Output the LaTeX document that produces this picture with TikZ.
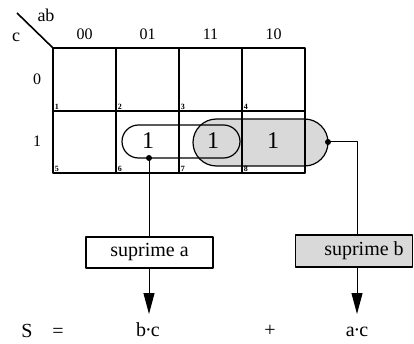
\documentclass[tikz,border=0pt]{standalone}
\usepackage{fontspec}
\setmainfont{Liberation Serif}
\usetikzlibrary{arrows.meta}
\begin{document}
\begin{tikzpicture}[x=1pt,y=-1pt, line join=round,
 gridline/.style={line width=1.6pt},
 loopshape/.style={draw, line width=1.2pt, inner sep=0pt},
 lbl/.style={font=\fontsize{16}{18}\selectfont, inner sep=0pt},
 corner/.style={font=\fontsize{18}{20}\selectfont, inner sep=0pt},
 cellnum/.style={font=\fontsize{8}{9}\selectfont\bfseries, inner sep=0.6pt, anchor=south west},
 one/.style={font=\fontsize{24}{26}\selectfont, inner sep=0pt},
 boxnode/.style={draw, line width=1.1pt, minimum height=31pt, font=\fontsize{20}{22}\selectfont, inner sep=0pt},
 eq/.style={font=\fontsize{20}{22}\selectfont, inner sep=0pt, anchor=base},
 conn/.style={line width=1pt},
 arr/.style={conn, -{Triangle[length=21pt,width=11pt]}},
 dotnode/.style={circle, fill, inner sep=0pt, minimum size=6pt},
 shade/.style={fill=black!15}]
\useasboundingbox (0,0) rectangle (414,344);
% shaded loop b
\node[loopshape, shade, rounded corners=23.5pt, minimum width=135pt, minimum height=47pt] (loopb) at (260.5,142.5) {};
% grid
\draw[gridline] (53,48) rectangle (305,173);
\draw[gridline] (53,111) -- (305,111);
\foreach \x in {116,179,242} \draw[gridline] (\x,48) -- (\x,173);
\draw[gridline] (17,13) -- (53,48);
% loop a
\node[loopshape, rounded corners=16.5pt, minimum width=118pt, minimum height=33pt] (loopa) at (181,141.5) {};
% labels
\node[corner] (lab) at (46,15) {ab};
\node[corner] (lc) at (16,37) {c};
\node[lbl] (h00) at (84.5,34) {00};
\node[lbl] (h01) at (147.5,34) {01};
\node[lbl] (h11) at (210.5,34) {11};
\node[lbl] (h10) at (273.5,34) {10};
\node[lbl] (r0) at (37,79) {0};
\node[lbl] (r1) at (37,141) {1};
% cell numbers
\node[cellnum] (n1) at (54,110) {1};
\node[cellnum] (n2) at (117,110) {2};
\node[cellnum] (n3) at (180,110) {3};
\node[cellnum] (n4) at (243,110) {4};
\node[cellnum] (n5) at (54,172) {5};
\node[cellnum] (n6) at (117,172) {6};
\node[cellnum] (n7) at (180,172) {7};
\node[cellnum] (n8) at (243,172) {8};
% ones
\node[one] (o1) at (148,141) {1};
\node[one] (o2) at (213,141) {1};
\node[one] (o3) at (273,141) {1};
% dots
\node[dotnode] (da) at (149,158) {};
\node[dotnode] (db) at (328,142) {};
% boxes
\node[boxnode, minimum width=127pt] (boxa) at (149.5,252.5) {suprime a};
\node[boxnode, shade, minimum width=117pt, minimum height=32pt] (boxb) at (354,251) {\hspace*{20pt}suprime b};
% connectors
\coordinate (bend) at (357,142);
\coordinate (ta) at (149,314);
\coordinate (tb) at (357,314);
\draw[conn] (da.center) -- (boxa.north -| da.center);
\draw[conn] (db.center) -- (bend) -- (bend |- boxb.north);
\draw[arr] (boxa.south -| ta) -- (ta);
\draw[arr] (boxb.south -| tb) -- (tb);
% equation
\node[eq] (s) at (27,337) {S};
\node[eq] (eqs) at (58,337) {=};
\node[eq] (bc) at (148,336) {b{\kern-1pt}·{\kern-1pt}c};
\node[eq] (plus) at (270,336) {+};
\node[eq] (ac) at (357,336) {a{\kern-1pt}·{\kern-1pt}c};
\end{tikzpicture}
\end{document}
